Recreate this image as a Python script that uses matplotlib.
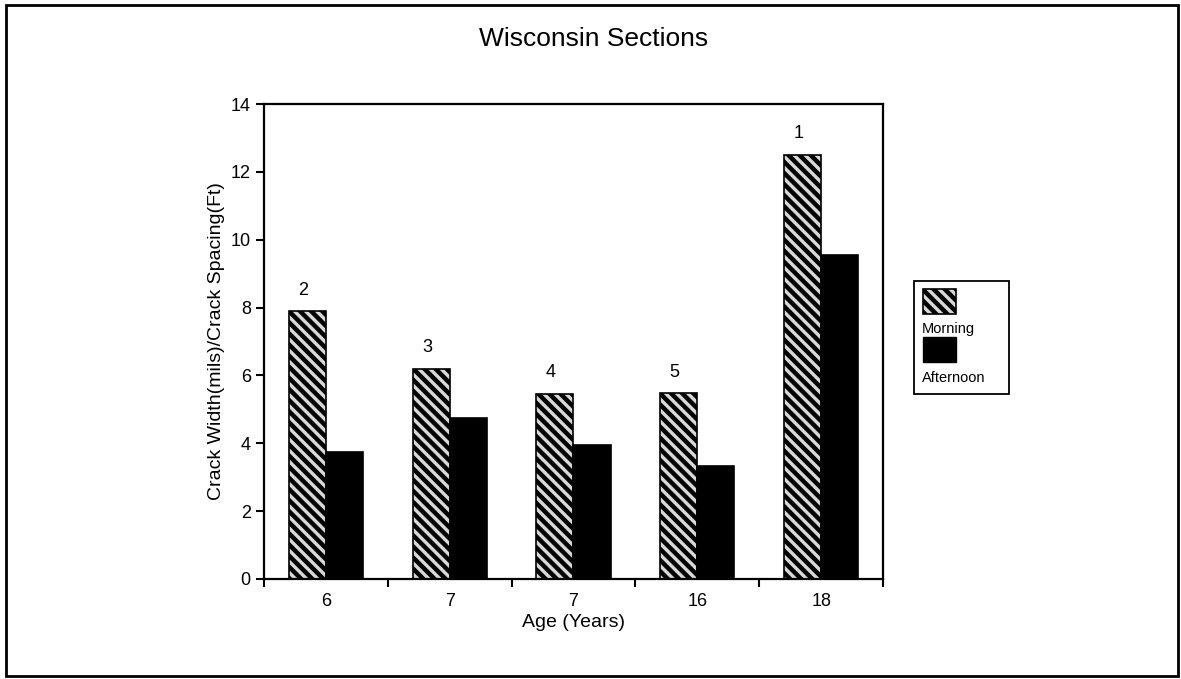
import matplotlib
matplotlib.use("Agg")
import matplotlib.pyplot as plt
from matplotlib.patches import Rectangle
import numpy as np

plt.rcParams['font.family'] = ['Liberation Sans', 'DejaVu Sans']
plt.rcParams['hatch.linewidth'] = 3.2

# data
ages = ['6', '7', '7', '16', '18']
section_ids = ['2', '3', '4', '5', '1']
morning = [7.89, 6.2, 5.46, 5.48, 12.5]
afternoon = [3.73, 4.75, 3.95, 3.32, 9.56]

fig = plt.figure(figsize=(11.81, 6.79), dpi=100)
ax = fig.add_axes([0.2235, 0.1473, 0.5242, 0.6995])

x = np.arange(len(ages))
w = 0.3
ax.bar(x - w / 2, morning, w, facecolor='#d8d8d8', edgecolor='black',
       hatch='\\\\\\', linewidth=1.2)
ax.bar(x + w / 2, afternoon, w, color='black', edgecolor='black', linewidth=1.2)

# section numbers above the morning bars
for xi, v, s in zip(x, morning, section_ids):
    ax.annotate(s, (xi - w / 2, v), xytext=(-3, 9), textcoords='offset points',
                ha='center', va='bottom', fontsize=13)

ax.set_xlim(-0.5, len(ages) - 0.5)
ax.set_ylim(0, 14)
ax.set_yticks(np.arange(0, 15, 2))
ax.set_xticks(np.arange(-0.5, len(ages), 1))
ax.set_xticklabels([])
ax.set_xticks(x, minor=True)
ax.set_xticklabels(ages, minor=True)
ax.tick_params(axis='x', which='minor', length=0, labelsize=13, pad=10)
ax.tick_params(axis='x', which='major', direction='out', length=6, width=1.5)
ax.tick_params(axis='y', direction='out', length=6, width=1.5, labelsize=13)
for sp in ax.spines.values():
    sp.set_linewidth(1.6)

ax.set_xlabel('Age (Years)', fontsize=14, labelpad=3)
ax.set_ylabel('Crack Width(mils)/Crack Spacing(Ft)', fontsize=14, labelpad=4)
fig.text(594 / 1181, 1 - 39 / 679, 'Wisconsin Sections', fontsize=19,
         ha='center', va='center')

# legend drawn by hand: swatch above its label
W, H = 1181, 679
def fbox(x0, y0, x1, y1):
    return (x0 / W, 1 - y1 / H), (x1 - x0) / W, (y1 - y0) / H

xy, bw, bh = fbox(914, 281, 1009, 394)
fig.patches.append(Rectangle(xy, bw, bh, transform=fig.transFigure,
                             facecolor='white', edgecolor='black', linewidth=1.3))
xy, bw, bh = fbox(923, 289, 956, 314)
fig.patches.append(Rectangle(xy, bw, bh, transform=fig.transFigure,
                             facecolor='#d8d8d8', edgecolor='black', hatch='\\\\\\',
                             linewidth=1.2))
fig.text(922 / W, 1 - 329 / H, 'Morning', fontsize=10.5, va='center', ha='left')
xy, bw, bh = fbox(923, 337, 956, 362)
fig.patches.append(Rectangle(xy, bw, bh, transform=fig.transFigure,
                             facecolor='black', edgecolor='black'))
fig.text(922 / W, 1 - 378 / H, 'Afternoon', fontsize=10.5, va='center', ha='left')

# outer frame
xy, bw, bh = fbox(6, 5, 1178, 676)
fig.patches.append(Rectangle(xy, bw, bh, transform=fig.transFigure,
                             facecolor='none', edgecolor='black', linewidth=2))

fig.savefig('out.png', dpi=100)
